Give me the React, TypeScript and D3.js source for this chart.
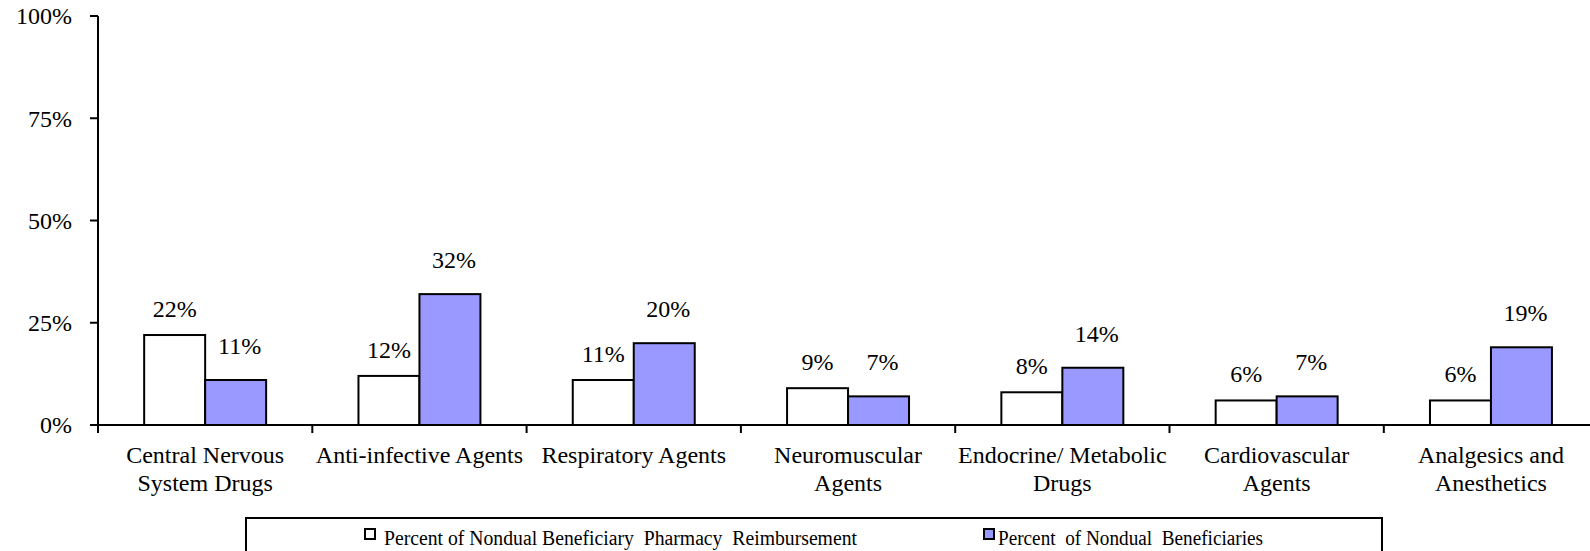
import React, { useEffect } from 'react';
import * as d3 from 'd3';

// chart data
const categories = [
  'Central Nervous|System Drugs',
  'Anti-infective Agents',
  'Respiratory Agents',
  'Neuromuscular|Agents',
  'Endocrine/ Metabolic|Drugs',
  'Cardiovascular|Agents',
  'Analgesics and|Anesthetics',
];
const reimbursement = [22, 12, 11, 9, 8, 6, 6];
const beneficiaries = [11, 32, 20, 7, 14, 7, 19];
const seriesNames = [
  'Percent of Nondual Beneficiary  Pharmacy  Reimbursement',
  'Percent  of Nondual  Beneficiaries',
];
const yTicks = [0, 25, 50, 75, 100];

const colors = ['#ffffff', '#9999ff'];
const font = '"Liberation Serif", "Times New Roman", serif';

const App = () => {
  useEffect(() => {
    document.body.style.margin = '0';
  }, []);

  const width = 1590;
  const height = 551;
  const left = 98;
  const x0 = d3.scaleBand().domain(categories).range([left, left + 7 * 214.3]).padding(0);
  const x1 = d3.scaleBand().domain(['0', '1']).range([0, x0.bandwidth()]).paddingInner(0).paddingOuter(0.757);
  const y = d3.scaleLinear().domain([0, 100]).range([425, 16]);

  const series = [reimbursement, beneficiaries];
  const labelOffset = [18, 26];

  return (
    <svg width={width} height={height} style={{ display: 'block', background: '#fff' }} fontFamily={font}>
      {/* y axis */}
      <line x1={left} x2={left} y1={y(100)} y2={y(0) + 8} stroke="#000" strokeWidth={2} />
      {yTicks.map((t) => (
        <g key={t}>
          <line x1={left - 8} x2={left} y1={y(t)} y2={y(t)} stroke="#000" strokeWidth={2} />
          <text x={72} y={y(t)} dy="0.35em" textAnchor="end" fontSize={24}>{t}%</text>
        </g>
      ))}

      {/* bars */}
      {series.map((vals, si) =>
        vals.map((v, i) => {
          const bx = x0(categories[i])! + x1(String(si))!;
          return (
            <g key={`${si}-${i}`}>
              <rect x={bx} y={y(v)} width={x1.bandwidth()} height={y(0) - y(v)}
                fill={colors[si]} stroke="#000" strokeWidth={2} />
              <text x={bx + x1.bandwidth() / 2 + (si ? 4 : 0)} y={y(v) - labelOffset[si]} textAnchor="middle" fontSize={24}>{v}%</text>
            </g>
          );
        })
      )}

      {/* x axis */}
      <line x1={left - 8} x2={width} y1={y(0)} y2={y(0)} stroke="#000" strokeWidth={2} />
      {categories.map((c, i) => (
        <g key={c}>
          {i > 0 && <line x1={x0(c)!} x2={x0(c)!} y1={y(0)} y2={y(0) + 8} stroke="#000" strokeWidth={2} />}
          {c.split('|').map((line, li) => (
            <text key={li} x={x0(c)! + x0.bandwidth() / 2} y={463 + li * 28} textAnchor="middle" fontSize={24}>{line}</text>
          ))}
        </g>
      ))}

      {/* legend */}
      <rect x={246} y={518} width={1136} height={40} fill="#fff" stroke="#000" strokeWidth={2} />
      {seriesNames.map((name, si) => {
        const sx = [365, 984][si];
        const tx = [384, 998][si];
        const tw = [473, 265][si];
        return (
          <g key={name}>
            <rect x={sx} y={529} width={10} height={10} fill={colors[si]} stroke="#000" strokeWidth={2} />
            <text x={tx} y={545} fontSize={20} textLength={tw} lengthAdjust="spacingAndGlyphs"
              style={{ whiteSpace: 'pre' }}>{name}</text>
          </g>
        );
      })}
    </svg>
  );
};

export default App;
